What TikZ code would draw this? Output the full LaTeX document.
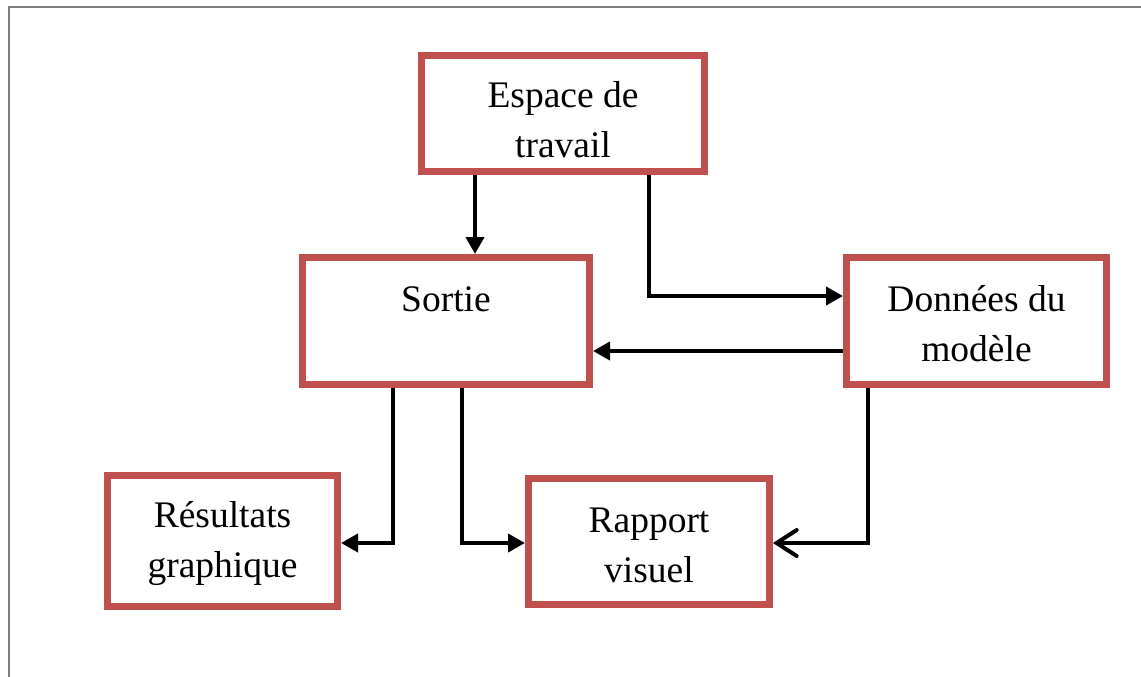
\documentclass[tikz,border=0pt]{standalone}
\usepackage{fontspec}
\setmainfont{Liberation Serif}
\usetikzlibrary{arrows.meta}
\definecolor{boxred}{HTML}{C0504D}
\definecolor{framegray}{HTML}{7F7F7F}
% invisible strut that raises the first line, pushing the text block down
\newcommand{\toppad}[1]{\rule{0pt}{#1pt}}
\tikzset{
  stagebox/.style={draw=boxred, line width=7pt, fill=white, inner sep=0pt,
    align=center, font=\fontsize{37.5}{50}\selectfont},
  flow/.style={line width=4pt, -{Triangle[length=17pt,width=18pt]}},
  flowbarb/.style={line width=4pt, -{Straight Barb[length=20pt,width=26pt,line cap=round]}}
}
\begin{document}
\begin{tikzpicture}[x=1pt,y=-1pt]
  \useasboundingbox (0,0) rectangle (1141,677);
  % page frame
  \draw[framegray, line width=2.5pt] (9,677) -- (9,7) -- (1141,7);

  % stages
  \node[stagebox, minimum width=283pt, minimum height=116pt] (espace) at (563,113.5) {\toppad{39}Espace de\\travail};
  \node[stagebox, minimum width=287pt, minimum height=127pt] (sortie) at (446,321) {\toppad{46}Sortie\\\strut};
  \node[stagebox, minimum width=260pt, minimum height=127pt] (donnees) at (976.5,321) {\toppad{31}Données du\\modèle};
  \node[stagebox, minimum width=230pt, minimum height=131pt] (resultats) at (222.5,541) {\toppad{32}Résultats\\graphique};
  \node[stagebox, minimum width=241pt, minimum height=126pt] (rapport) at (649,541.5) {\toppad{32}Rapport\\visuel};

  % connector columns and rows
  \coordinate (xA) at (475,0);
  \coordinate (xB) at (649,0);
  \coordinate (xC) at (393,0);
  \coordinate (xD) at (462,0);
  \coordinate (xE) at (868,0);
  \coordinate (yB) at (0,296);
  \coordinate (yC) at (0,351);
  \coordinate (yD) at (0,543);

  % connectors
  \draw[flow] (espace.south -| xA) -- (sortie.north -| xA);
  \draw[flow] (espace.south -| xB) |- (donnees.west |- yB);
  \draw[flow] (donnees.west |- yC) -- (sortie.east |- yC);
  \draw[flow] (sortie.south -| xC) |- (resultats.east |- yD);
  \draw[flow] (sortie.south -| xD) |- (rapport.west |- yD);
  \draw[flowbarb] (donnees.south -| xE) |- (rapport.east |- yD);
\end{tikzpicture}
\end{document}
